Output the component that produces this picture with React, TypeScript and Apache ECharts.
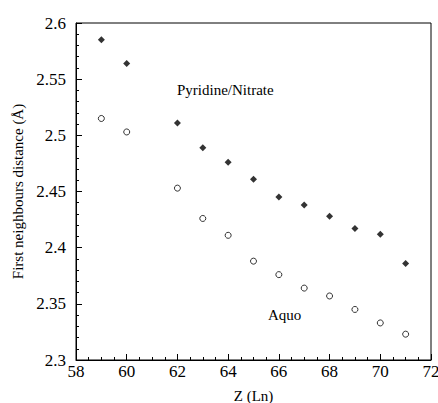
import React, { useEffect, useRef } from "react";
import * as echarts from "echarts";

const zValues = [59, 60, 62, 63, 64, 65, 66, 67, 68, 69, 70, 71];
const pyridineNitrate = [2.585, 2.564, 2.511, 2.489, 2.476, 2.461, 2.445, 2.438, 2.428, 2.417, 2.412, 2.386];
const aquo = [2.515, 2.503, 2.453, 2.426, 2.411, 2.388, 2.376, 2.364, 2.357, 2.345, 2.333, 2.323];

const FONT = "Liberation Serif";

export default function App() {
  const ref = useRef<HTMLDivElement>(null);
  useEffect(() => {
    if (!ref.current) return;
    const chart = echarts.init(ref.current, null, { renderer: "svg" });
    const labelStyle = { color: "#000", fontFamily: FONT, fontSize: 17 };
    chart.setOption({
      animation: false,
      backgroundColor: "#fff",
      textStyle: { fontFamily: FONT },
      grid: {
        left: 76, right: 7, top: 23, bottom: 43,
        outerBoundsMode: "none",
        containLabel: false,
        show: true, borderColor: "#000", borderWidth: 1, backgroundColor: "transparent",
      },
      xAxis: {
        type: "value",
        min: 58,
        max: 72,
        interval: 2,
        axisLine: { show: true, onZero: false, lineStyle: { color: "#000", width: 1 } },
        axisTick: { show: true, inside: true, length: 6, lineStyle: { color: "#000" } },
        minorTick: { show: true, splitNumber: 4, length: 3, lineStyle: { color: "#000" } },
        splitLine: { show: false },
        axisLabel: { ...labelStyle, margin: 3, hideOverlap: false },
        name: "Z (Ln)",
        nameLocation: "middle",
        nameGap: 28,
        nameTextStyle: { color: "#000", fontFamily: FONT, fontSize: 15 },
      },
      yAxis: {
        type: "value",
        min: 2.3,
        max: 2.6,
        interval: 0.05,
        axisLine: { show: true, onZero: false, lineStyle: { color: "#000", width: 1 } },
        axisTick: { show: true, inside: true, length: 6, lineStyle: { color: "#000" } },
        minorTick: { show: true, splitNumber: 5, length: 3, lineStyle: { color: "#000" } },
        splitLine: { show: false },
        axisLabel: { ...labelStyle, margin: 10, hideOverlap: false, formatter: (v: number) => String(parseFloat(v.toFixed(2))) },
        name: "First neighbours distance (Å)",
        nameLocation: "middle",
        nameGap: 49,
        nameTextStyle: { color: "#000", fontFamily: FONT, fontSize: 15 },
      },
      series: [
        {
          name: "Pyridine/Nitrate",
          type: "scatter",
          symbol: "diamond",
          symbolSize: 7,
          itemStyle: { color: "#000" },
          data: zValues.map((z, i) => [z, pyridineNitrate[i]]),
        },
        {
          name: "Aquo",
          type: "scatter",
          symbol: "circle",
          symbolSize: 6,
          itemStyle: { color: "#fff", borderColor: "#000", borderWidth: 1 },
          data: zValues.map((z, i) => [z, aquo[i]]),
        },
      ],
      graphic: [
        { type: "text", left: 177, top: 82, style: { text: "Pyridine/Nitrate", fontFamily: FONT, fontSize: 15, fill: "#000" } },
        { type: "text", left: 268, top: 307, style: { text: "Aquo", fontFamily: FONT, fontSize: 15, fill: "#000" } },
      ],
    });
    return () => chart.dispose();
  }, []);
  return <div ref={ref} style={{ width: 438, height: 403, position: "absolute", left: 0, top: 0 }} />;
}
